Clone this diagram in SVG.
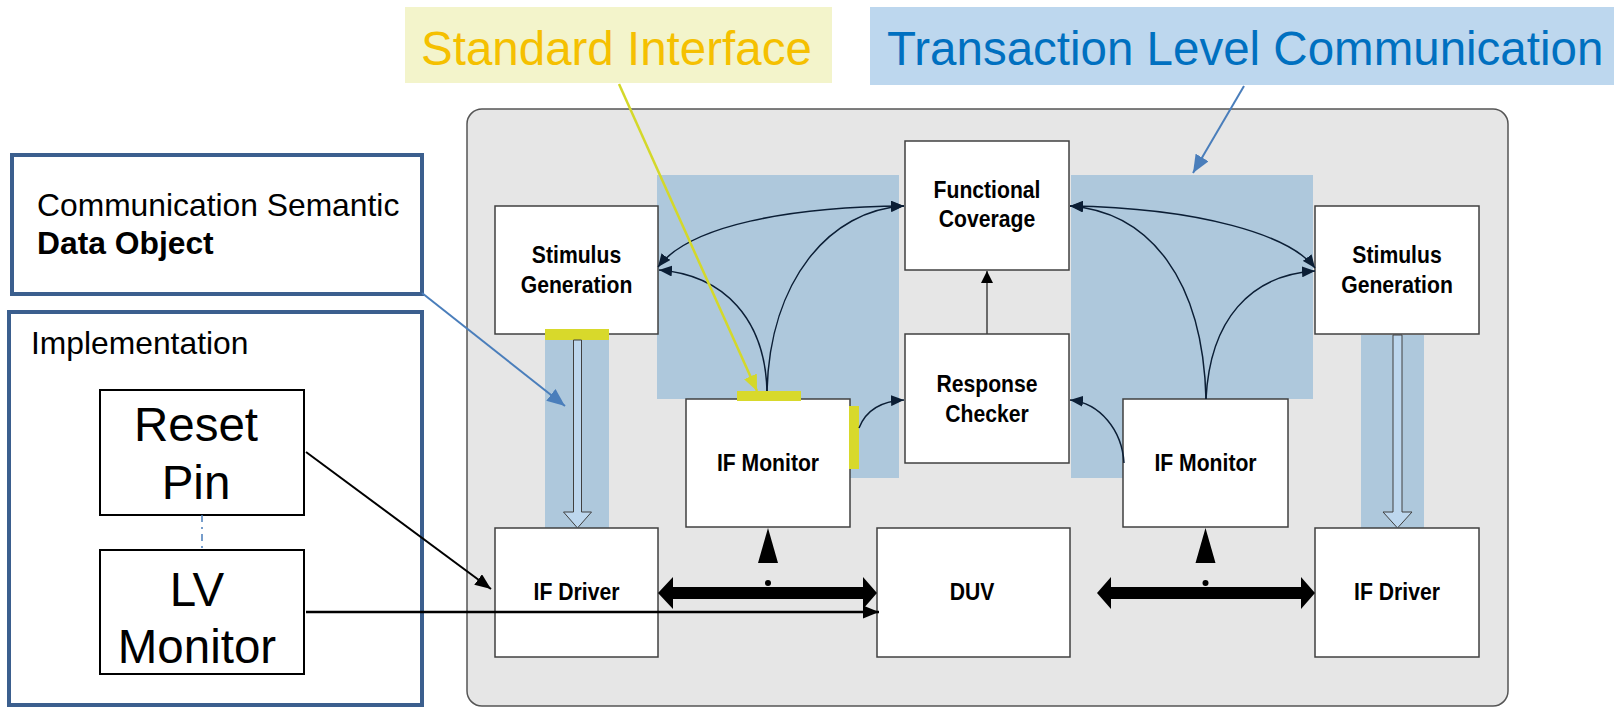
<svg xmlns="http://www.w3.org/2000/svg" width="1614" height="708" viewBox="0 0 1614 708">
<style>
.node{fill:#fff;stroke:#404040;stroke-width:1.5}
.lbl{font-family:"Liberation Sans",Arial,sans-serif;font-weight:bold;font-size:23.5px;fill:#000;text-anchor:middle}
.big{font-family:"Liberation Sans",Arial,sans-serif;font-size:47.5px;fill:#000;text-anchor:middle}
.note{font-family:"Liberation Sans",Arial,sans-serif;font-size:31.8px;fill:#000}
.title{font-family:"Liberation Sans",Arial,sans-serif;font-size:47.5px}
.blue{fill:#aec8dc}
.ybar{fill:#d8d92b}
.curve{fill:none;stroke:#0b1e35;stroke-width:1.5}
.hollow{fill:#bdd7ee;stroke:#404040;stroke-width:1}
.frame{fill:#fff;stroke:#3b5f8e;stroke-width:4}
</style>
<defs>
<marker id="nav" markerUnits="userSpaceOnUse" markerWidth="13" markerHeight="11" refX="13" refY="5.5" orient="auto-start-reverse"><path d="M0,0 L13,5.5 L0,11 z" fill="#0b1e35"/></marker>
<marker id="blk" markerUnits="userSpaceOnUse" markerWidth="16" markerHeight="13" refX="16" refY="6.5" orient="auto"><path d="M0,0 L16,6.5 L0,13 z" fill="#000"/></marker>
<marker id="gry" markerUnits="userSpaceOnUse" markerWidth="12" markerHeight="12" refX="12" refY="6" orient="auto"><path d="M0,0 L12,6 L0,12 z" fill="#000"/></marker>
<marker id="bluearr" markerUnits="userSpaceOnUse" markerWidth="18" markerHeight="15" refX="18" refY="7.5" orient="auto"><path d="M0,0 L18,7.5 L0,15 z" fill="#4a7ebb"/></marker>
<marker id="yelarr" markerUnits="userSpaceOnUse" markerWidth="16" markerHeight="14" refX="16" refY="7" orient="auto"><path d="M0,0 L16,7 L0,14 z" fill="#d4d82a"/></marker>
</defs>

<g id="titles">
<rect x="405" y="7" width="427" height="76" fill="#f3f4cb"/>
<text class="title" x="421" y="65" fill="#f5c000">Standard Interface</text>
<rect x="870" y="7" width="744" height="78" fill="#bdd7ee"/>
<text class="title" x="887" y="65" fill="#0070c0">Transaction Level Communication</text>
</g>

<g id="testbench">
<rect x="467" y="109" width="1041" height="597" rx="15" fill="#e6e6e6" stroke="#555" stroke-width="1.5"/>
<path class="blue" d="M657,175 H899 V478 H850 V399 H657 Z"/>
<path class="blue" d="M1071,175 H1313 V399 H1123 V478 H1071 Z"/>
<rect class="blue" x="545" y="329" width="64" height="199"/>
<rect class="blue" x="1361" y="335" width="63" height="193"/>
</g>

<g id="legend-comm">
<rect class="frame" x="12" y="155" width="410" height="139"/>
<text class="note" x="37" y="216">Communication Semantic</text>
<text class="note" x="37" y="254" font-weight="bold">Data Object</text>
</g>
<g id="legend-impl">
<rect class="frame" x="9" y="312" width="413" height="393"/>
<text class="note" x="31" y="354">Implementation</text>
</g>
<g id="reset-pin">
<rect x="100" y="390" width="204" height="125" fill="#fff" stroke="#000" stroke-width="2"/>
<text class="big" x="196" y="441">Reset</text>
<text class="big" x="196" y="499">Pin</text>
</g>
<g id="lv-monitor">
<rect x="100" y="550" width="204" height="124" fill="#fff" stroke="#000" stroke-width="2"/>
<text class="big" x="197" y="606">LV</text>
<text class="big" x="197" y="663">Monitor</text>
</g>

<g id="stim-left"><rect class="node" x="495" y="206" width="163" height="128"/><text class="lbl" transform="translate(576.5,263) scale(0.9,1)">Stimulus</text><text class="lbl" transform="translate(576.5,293) scale(0.9,1)">Generation</text></g>
<g id="func-cov"><rect class="node" x="905" y="141" width="164" height="129"/><text class="lbl" transform="translate(987,198) scale(0.9,1)">Functional</text><text class="lbl" transform="translate(987,227) scale(0.9,1)">Coverage</text></g>
<g id="resp-check"><rect class="node" x="905" y="334" width="164" height="129"/><text class="lbl" transform="translate(987,392) scale(0.9,1)">Response</text><text class="lbl" transform="translate(987,422) scale(0.9,1)">Checker</text></g>
<g id="stim-right"><rect class="node" x="1315" y="206" width="164" height="128"/><text class="lbl" transform="translate(1397,263) scale(0.9,1)">Stimulus</text><text class="lbl" transform="translate(1397,293) scale(0.9,1)">Generation</text></g>
<g id="mon-left"><rect class="node" x="686" y="399" width="164" height="128"/><text class="lbl" transform="translate(768,471) scale(0.9,1)">IF Monitor</text></g>
<g id="mon-right"><rect class="node" x="1123" y="399" width="165" height="128"/><text class="lbl" transform="translate(1205.5,471) scale(0.9,1)">IF Monitor</text></g>
<g id="drv-left"><rect class="node" x="495" y="528" width="163" height="129"/><text class="lbl" transform="translate(576.5,600) scale(0.9,1)">IF Driver</text></g>
<g id="duv"><rect class="node" x="877" y="528" width="193" height="129"/><text class="lbl" transform="translate(972,600) scale(0.9,1)">DUV</text></g>
<g id="drv-right"><rect class="node" x="1315" y="528" width="164" height="129"/><text class="lbl" transform="translate(1397,600) scale(0.9,1)">IF Driver</text></g>

<g id="interfaces">
<rect class="ybar" x="545" y="329" width="64" height="11"/>
<rect class="ybar" x="737" y="391" width="64" height="10"/>
<rect class="ybar" x="849" y="406" width="10" height="63"/>
</g>

<g id="connectors">
<path class="hollow" d="M573.5,340 H581.5 V512 H591.5 L577.5,528 L563.5,512 H573.5 Z"/>
<path class="hollow" d="M1393,335 H1402 V512 H1412 L1397.5,528 L1383,512 H1393 Z"/>
<path class="curve" d="M658,267 C690,225 790,207 904,206" marker-start="url(#nav)" marker-end="url(#nav)"/>
<path class="curve" d="M767,391 C765,320 725,275 659,270" marker-end="url(#nav)"/>
<path class="curve" d="M767,391 C770,280 830,210 904,206" marker-end="url(#nav)"/>
<path class="curve" d="M859,428 C866,410 882,401 904,400" marker-end="url(#nav)"/>
<path class="curve" d="M1070,206 C1200,208 1290,235 1315,268" marker-start="url(#nav)" marker-end="url(#nav)"/>
<path class="curve" d="M1206,399 C1203,280 1150,212 1070,206" marker-end="url(#nav)"/>
<path class="curve" d="M1206,399 C1210,320 1250,275 1315,271" marker-end="url(#nav)"/>
<path class="curve" d="M1124,463 C1122,430 1100,403 1070,400" marker-end="url(#nav)"/>
<line x1="987" y1="334" x2="987" y2="271" stroke="#404040" stroke-width="1.5" marker-end="url(#gry)"/>
<polygon points="658,593 673,577 673,587 863,587 863,577 877,593 863,609 863,599 673,599 673,609" fill="#000"/>
<polygon points="1097,593 1111,577 1111,587 1301,587 1301,577 1315,593 1301,609 1301,599 1111,599 1111,609" fill="#000"/>
<polygon points="768,528 758,563 778,563" fill="#000"/>
<circle cx="768" cy="583" r="3" fill="#000"/>
<polygon points="1205.5,528 1195.5,563 1215.5,563" fill="#000"/>
<circle cx="1205.5" cy="583" r="3" fill="#000"/>
<line x1="306" y1="452" x2="491" y2="589" stroke="#000" stroke-width="2" marker-end="url(#blk)"/>
<line x1="306" y1="612" x2="879" y2="612" stroke="#000" stroke-width="2.3" marker-end="url(#blk)"/>
<line x1="202" y1="515" x2="202" y2="550" stroke="#4a7ebb" stroke-width="1.5" stroke-dasharray="7 5 2 5"/>
</g>

<g id="annotations">
<line x1="619" y1="84" x2="757" y2="391" stroke="#d4d82a" stroke-width="2.5" marker-end="url(#yelarr)"/>
<line x1="1244" y1="86" x2="1193" y2="173" stroke="#4a7ebb" stroke-width="2" marker-end="url(#bluearr)"/>
<line x1="422" y1="293" x2="565" y2="406" stroke="#4a7ebb" stroke-width="2" marker-end="url(#bluearr)"/>
</g>
</svg>
